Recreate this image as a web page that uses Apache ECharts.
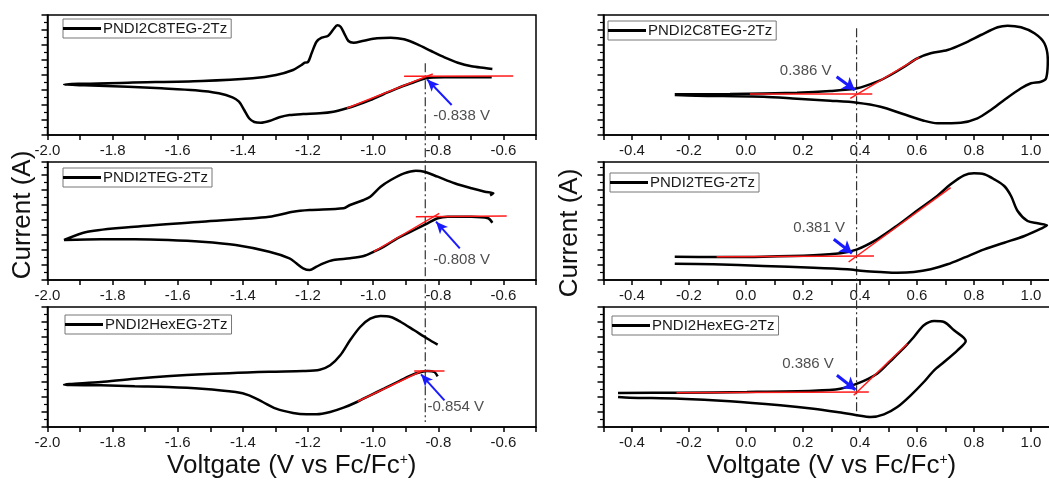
<!DOCTYPE html>
<html><head><meta charset="utf-8">
<script src="https://cdn.jsdelivr.net/npm/echarts@6/dist/echarts.min.js"></script>
<style>html,body{margin:0;padding:0;background:#fff}#c{width:1049px;height:480px}</style>
</head><body><div id="c"></div>
<script>
// ---------- data (V vs Fc/Fc+, current in arbitrary units) ----------
const names = ['PNDI2C8TEG-2Tz', 'PNDI2TEG-2Tz', 'PNDI2HexEG-2Tz', 'PNDI2C8TEG-2Tz', 'PNDI2TEG-2Tz', 'PNDI2HexEG-2Tz'];

const curve1 = [[-0.636,5.77],[-0.698,5.77],[-0.781,5.77],[-0.838,5.67],[-0.884,5.17],[-0.926,4.67],[-0.967,4.10],[-1.009,3.50],[-1.050,3.00],[-1.081,2.67],[-1.122,2.33],[-1.164,2.17],[-1.215,2.10],[-1.257,2.00],[-1.288,1.77],[-1.319,1.40],[-1.345,1.23],[-1.365,1.30],[-1.381,1.67],[-1.396,2.50],[-1.412,3.33],[-1.432,3.77],[-1.474,4.17],[-1.546,4.47],[-1.650,4.67],[-1.753,4.83],[-1.887,4.97],[-1.949,5.05],[-1.753,5.23],[-1.526,5.40],[-1.370,5.67],[-1.298,6.00],[-1.246,6.50],[-1.220,7.00],[-1.210,7.23],[-1.200,7.30],[-1.189,8.17],[-1.174,9.33],[-1.158,9.73],[-1.138,9.93],[-1.122,10.57],[-1.110,10.97],[-1.100,10.83],[-1.089,10.17],[-1.076,9.40],[-1.060,9.23],[-1.029,9.43],[-0.988,9.67],[-0.946,9.73],[-0.905,9.57],[-0.864,9.07],[-0.822,8.40],[-0.781,7.77],[-0.740,7.23],[-0.698,6.87],[-0.657,6.70],[-0.634,6.60]];
const curve2 = [[-0.634,5.73],[-0.647,6.17],[-0.698,6.33],[-0.771,6.33],[-0.802,6.17],[-0.833,5.67],[-0.874,5.00],[-0.926,4.17],[-0.967,3.33],[-0.998,2.83],[-1.029,2.40],[-1.071,2.17],[-1.122,2.00],[-1.153,1.67],[-1.174,1.33],[-1.195,1.00],[-1.215,1.17],[-1.236,1.67],[-1.257,2.17],[-1.319,2.83],[-1.422,3.50],[-1.526,3.83],[-1.629,4.00],[-1.732,4.07],[-1.836,4.07],[-1.949,4.00],[-1.877,4.83],[-1.732,5.33],[-1.526,5.83],[-1.319,6.33],[-1.246,6.83],[-1.195,7.00],[-1.091,7.17],[-1.071,7.50],[-1.029,8.00],[-1.009,8.33],[-0.977,9.33],[-0.946,10.00],[-0.905,10.67],[-0.869,10.93],[-0.843,10.83],[-0.802,10.33],[-0.750,9.67],[-0.698,9.17],[-0.657,8.83],[-0.631,8.67],[-0.641,8.47]];
const curve3 = [[-0.802,5.07],[-0.812,5.50],[-0.833,5.60],[-0.853,5.50],[-0.884,5.17],[-0.926,4.50],[-0.967,3.83],[-1.009,3.17],[-1.050,2.50],[-1.091,1.93],[-1.132,1.50],[-1.174,1.27],[-1.205,1.27],[-1.246,1.40],[-1.298,1.83],[-1.339,2.50],[-1.381,3.17],[-1.422,3.50],[-1.526,3.83],[-1.629,4.00],[-1.732,4.07],[-1.836,4.17],[-1.949,4.23],[-1.836,4.50],[-1.732,4.83],[-1.526,5.27],[-1.319,5.53],[-1.215,5.60],[-1.164,5.73],[-1.132,6.17],[-1.101,7.17],[-1.071,8.67],[-1.040,10.00],[-1.009,10.83],[-0.977,11.10],[-0.946,11.00],[-0.915,10.50],[-0.874,9.67],[-0.833,8.83],[-0.802,8.23]];
const curve4 = [[-0.250,4.07],[-0.056,4.10],[0.179,4.23],[0.296,4.40],[0.390,4.67],[0.460,5.33],[0.507,6.00],[0.554,6.80],[0.601,7.67],[0.648,8.17],[0.707,8.50],[0.765,9.17],[0.824,10.00],[0.883,10.77],[0.918,10.93],[0.965,10.77],[1.012,10.17],[1.047,9.17],[1.059,7.50],[1.053,5.67],[1.035,5.33],[1.000,5.17],[0.965,4.67],[0.906,3.50],[0.859,2.50],[0.812,1.67],[0.754,1.23],[0.671,1.17],[0.624,1.43],[0.554,2.07],[0.472,2.83],[0.390,3.23],[0.296,3.43],[0.179,3.63],[0.061,3.83],[-0.173,3.93],[-0.250,4.00]];
const curve5 = [[-0.250,2.33],[-0.103,2.30],[0.061,2.33],[0.237,2.47],[0.331,2.67],[0.390,3.07],[0.460,4.07],[0.531,5.45],[0.601,6.95],[0.671,8.40],[0.718,9.57],[0.765,10.47],[0.800,10.67],[0.836,10.57],[0.871,10.07],[0.906,9.40],[0.930,8.40],[0.953,6.90],[0.988,5.90],[1.023,5.67],[1.056,5.47],[1.035,5.13],[0.977,4.40],[0.906,3.73],[0.836,3.07],[0.765,2.23],[0.707,1.57],[0.648,1.07],[0.589,0.80],[0.531,0.73],[0.472,0.80],[0.413,0.90],[0.355,1.07],[0.237,1.23],[0.061,1.40],[-0.115,1.57],[-0.250,1.63]];
const curve6 = [[-0.449,3.40],[-0.232,3.43],[0.003,3.50],[0.237,3.63],[0.331,3.83],[0.390,4.33],[0.460,5.33],[0.507,6.60],[0.554,7.90],[0.589,9.00],[0.624,10.17],[0.660,10.60],[0.695,10.50],[0.730,9.67],[0.771,8.60],[0.742,7.67],[0.695,6.50],[0.660,5.67],[0.624,4.50],[0.578,3.17],[0.531,2.00],[0.484,1.27],[0.437,1.00],[0.390,1.17],[0.319,1.50],[0.237,1.83],[0.120,2.17],[-0.056,2.57],[-0.232,2.83],[-0.408,2.93],[-0.449,3.00]];

// tangent lines (baseline and rising edge), [start, end]
const baseline = [[[-0.905,5.87],[-0.570,5.90]], [[-0.869,6.33],[-0.590,6.40]], [[-0.874,5.60],[-0.781,5.60]],
                  [[0.014,4.10],[0.443,4.10]], [[-0.103,2.33],[0.449,2.40]], [[-0.244,3.43],[0.431,3.50]]];
const rising = [[[-1.081,2.67],[-0.817,6.10]], [[-0.998,2.83],[-0.797,6.67]], [[-1.048,2.55],[-0.849,5.62]],
                [[0.366,3.67],[0.607,7.77]], [[0.360,1.80],[0.718,9.23]], [[0.378,3.17],[0.566,8.33]]];
// onset arrows [tail, head]
const arrows = [[[-0.759,3.0],[-0.834,5.55]], [[-0.734,3.17],[-0.807,5.83]], [[-0.781,2.67],[-0.853,5.27]],
                [[0.318,5.83],[0.382,4.5]], [[0.308,4.07],[0.372,2.67]], [[0.319,5.17],[0.384,3.73]]];
// onset labels
const onsetText = ['-0.838 V', '-0.808 V', '-0.854 V', '0.386 V', '0.381 V', '0.386 V'];
const onsetAt = [[-0.817,1.9], [-0.817,2.0], [-0.835,2.0], [0.302,6.4], [0.349,5.17], [0.310,6.33]];
// onset guide lines (x value)
const guideReduction = -0.84;
const guideOxidation = 0.388;

const curves = [curve1, curve2, curve3, curve4, curve5, curve6];
const xRangeLeft = [-2.0, -0.5];
const xRangeRight = [-0.5, 1.1];

// ---------- layout ----------
const FONT = '"Liberation Sans", Arial, Helvetica, sans-serif';
const grids = [
  {left: 47.5, top: 15, width: 488.5, height: 120},
  {left: 47.5, top: 162, width: 488.5, height: 118},
  {left: 47.5, top: 307, width: 488.5, height: 120},
  {left: 603.5, top: 15, width: 456, height: 120},
  {left: 603.5, top: 162, width: 456, height: 118},
  {left: 603.5, top: 307, width: 456, height: 120}
];
const yMax = [12, 11.8, 12, 12, 11.8, 12];
const legendPos = [[63, 19], [63, 168], [65, 315], [608, 21], [610, 173], [612, 316]];

const labelFmt = v => { const k = Math.round(v * 10); return (k % 2 === 0) ? (k / 10).toFixed(1) : ''; };

const option = {
  animation: false,
  backgroundColor: '#fff',
  textStyle: {fontFamily: FONT},
  grid: grids.map(g => Object.assign({show: true, borderColor: '#000', borderWidth: 1.5, containLabel: false, outerBoundsMode: 'none'}, g)),
  xAxis: grids.map((g, i) => {
    const r = i < 3 ? xRangeLeft : xRangeRight;
    const ax = {
      type: 'value', gridIndex: i, min: r[0], max: r[1], interval: 0.1,
      axisLine: {onZero: false, lineStyle: {color: '#000', width: 1.5}},
      axisTick: {length: 5, lineStyle: {color: '#000', width: 1.5}},
      axisLabel: {fontSize: 15, color: '#1a1a1a', margin: 8, formatter: labelFmt, fontFamily: FONT},
      splitLine: {show: false}
    };
    if (i === 2 || i === 5) {
      ax.name = 'Voltgate (V vs Fc/Fc{sup|+})';
      ax.nameLocation = 'middle';
      ax.nameGap = 26;
      ax.nameTextStyle = {fontSize: 26, color: '#111', fontFamily: FONT,
        rich: {sup: {fontSize: 14, fontFamily: FONT, color: '#111', verticalAlign: 'top', padding: [0, 0, 12, 0]}}};
    }
    return ax;
  }),
  yAxis: grids.map((g, i) => ({
    type: 'value', gridIndex: i, min: 0, max: yMax[i], interval: 1.5,
    axisLine: {onZero: false, lineStyle: {color: '#000', width: 1.5}},
    axisTick: {length: 6, lineStyle: {color: '#000', width: 1.5}},
    minorTick: {show: true, splitNumber: 2, length: 3.5, lineStyle: {color: '#000', width: 1.2}},
    axisLabel: {show: false},
    splitLine: {show: false}
  })),
  legend: names.map((n, i) => ({
    data: [n], left: legendPos[i][0], top: legendPos[i][1], orient: 'horizontal',
    icon: 'rect', itemWidth: 38, itemHeight: 3, itemGap: 0,
    padding: [2, 4, 2, 0], borderColor: '#777', borderWidth: 1, backgroundColor: '#fff',
    textStyle: {fontSize: 15, color: '#1a1a1a', fontFamily: FONT, padding: [0, 0, 0, -3]},
    selectedMode: false
  })),
  graphic: [
    {type: 'text', id: 'yt0', x: 23, y: 215, rotation: Math.PI / 2,
     style: {text: 'Current (A)', fontSize: 26, fontFamily: FONT, fill: '#111', align: 'center', verticalAlign: 'middle'}},
    {type: 'text', id: 'yt1', x: 570, y: 233, rotation: Math.PI / 2,
     style: {text: 'Current (A)', fontSize: 26, fontFamily: FONT, fill: '#111', align: 'center', verticalAlign: 'middle'}}
  ],
  series: []
};

curves.forEach((c, i) => {
  const red = {color: '#ff1a1a', width: 1.5, type: 'solid'};
  option.series.push({
    type: 'line', name: names[i], xAxisIndex: i, yAxisIndex: i, data: c,
    showSymbol: false, smooth: 0.3, color: '#000', z: 2,
    lineStyle: {color: '#000', width: 2.5},
    markLine: {
      silent: true, animation: false, symbol: ['none', 'none'], label: {show: false},
      emphasis: {disabled: true},
      data: [
        [{coord: baseline[i][0], lineStyle: red}, {coord: baseline[i][1]}],
        [{coord: rising[i][0], lineStyle: red}, {coord: rising[i][1]}],
        [{coord: arrows[i][0], symbol: 'none', lineStyle: {color: '#1a1aff', width: i < 3 ? 2 : 3, type: 'solid'}},
         {coord: arrows[i][1], symbol: 'arrow', symbolSize: i < 3 ? [8, 12] : [11, 12]}]
      ]
    }
  });
  option.series.push({
    type: 'scatter', xAxisIndex: i, yAxisIndex: i, symbolSize: 1, silent: true, z: 5,
    itemStyle: {color: 'rgba(0,0,0,0)'},
    data: [{value: onsetAt[i], label: {formatter: onsetText[i]}}],
    label: {show: true, position: i < 3 ? 'right' : 'left', distance: 0, fontSize: 15, color: '#222', fontFamily: FONT}
  });
});

const chart = echarts.init(document.getElementById('c'), null, {renderer: 'canvas'});
chart.setOption(option);

// vertical dash-dot guide lines spanning all three panels of each column
const gTop = chart.convertToPixel({xAxisIndex: 0, yAxisIndex: 0}, [guideReduction, 7.17]);
const gBot = chart.convertToPixel({xAxisIndex: 2, yAxisIndex: 2}, [guideReduction, 0.5]);
const hTop = chart.convertToPixel({xAxisIndex: 3, yAxisIndex: 3}, [guideOxidation, 10.67]);
const hBot = chart.convertToPixel({xAxisIndex: 5, yAxisIndex: 5}, [guideOxidation, 0.83]);
const dash = {stroke: '#333', lineWidth: 1.2, lineDash: [9, 3, 2, 3]};
chart.setOption({graphic: [
  {type: 'line', id: 'g0', z: 1, shape: {x1: gTop[0], y1: gTop[1], x2: gBot[0], y2: gBot[1]}, style: dash},
  {type: 'line', id: 'g1', z: 1, shape: {x1: hTop[0], y1: hTop[1], x2: hBot[0], y2: hBot[1]}, style: dash}
]});
</script></body></html>
